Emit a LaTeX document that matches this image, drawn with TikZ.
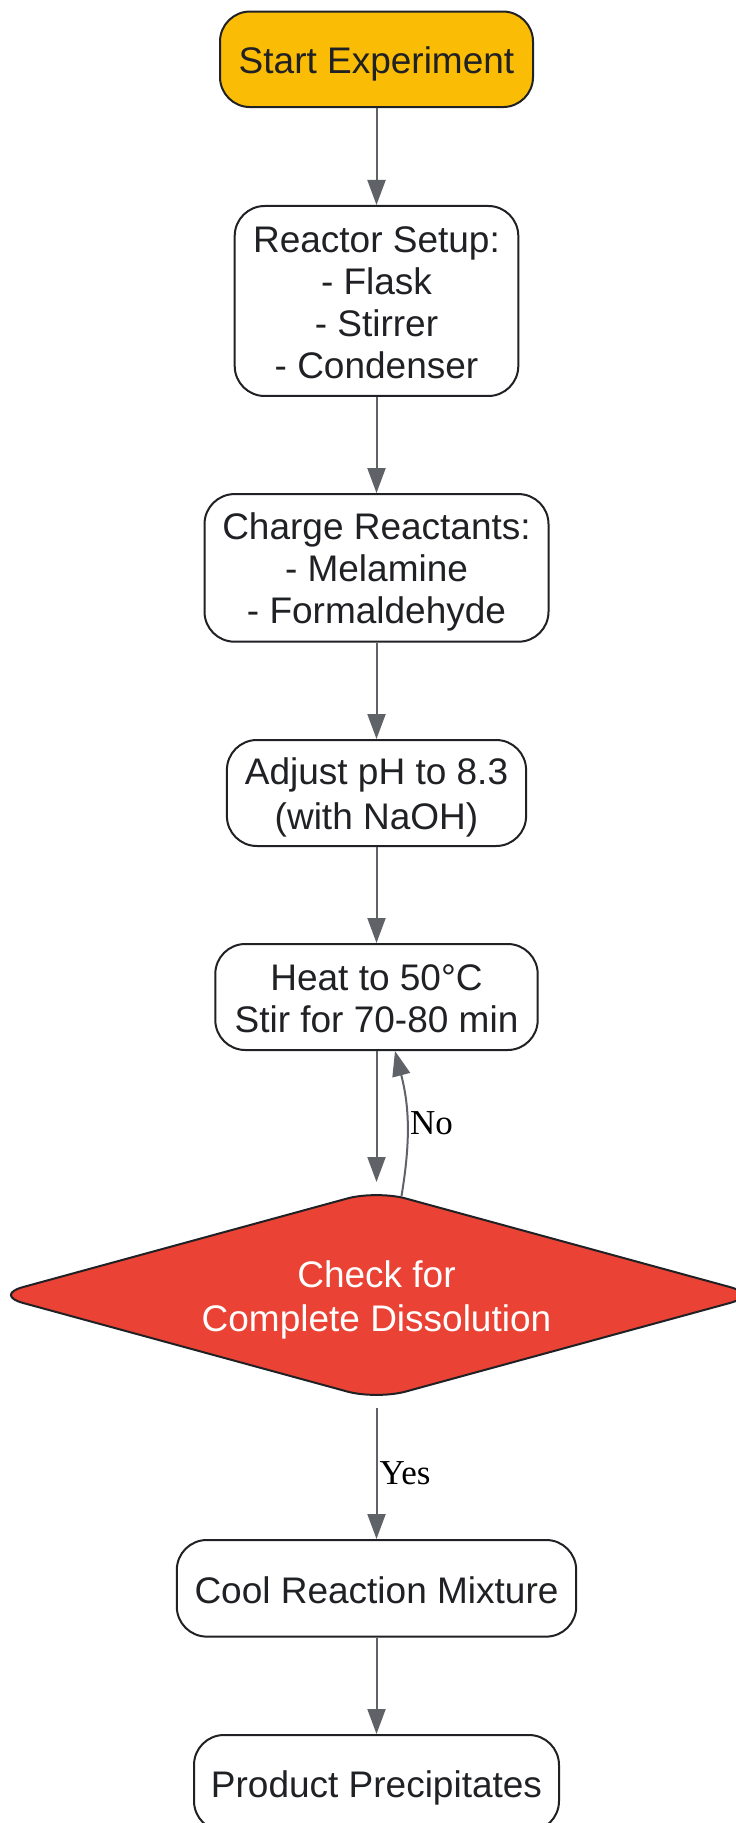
\documentclass[tikz,border=0pt]{standalone}
\usepackage{fontspec}
\setmainfont{Liberation Sans}
\newfontfamily\answerfont{Liberation Serif}
\usetikzlibrary{shapes.geometric,arrows.meta}
\definecolor{startyellow}{HTML}{FBBC05}
\definecolor{checkred}{HTML}{EA4335}
\definecolor{flowgray}{HTML}{5F6368}
\definecolor{inkdark}{HTML}{202124}
% one line box of the step text
\newcommand\boxstrut{\rule[-3.15pt]{0pt}{21pt}}
\newcommand\steplines[1]{\boxstrut#1\boxstrut}
\begin{document}
\begin{tikzpicture}[x=0.5pt,y=-0.5pt,
    stepbox/.style={draw=inkdark, line width=1pt, rounded corners=15pt, fill=white,
        text=inkdark, align=center, inner sep=0pt, font=\fontsize{18.5}{21}\selectfont},
    checkbox/.style={diamond, aspect=3.66, draw=inkdark, line width=1pt, rounded corners=15pt,
        fill=checkred, text=white, align=center, inner sep=0pt, outer sep=3pt,
        minimum width=385pt, minimum height=107pt, font=\fontsize{18.5}{20.5}\selectfont},
    flow/.style={draw=flowgray, line width=1pt, -{Triangle[width=9pt,length=12.5pt]}},
    answer/.style={font=\answerfont\fontsize{17.5}{20}\selectfont, text=black, inner sep=1pt}]
    \useasboundingbox (0,0) rectangle (735,1823);

    % Steps
    \node[stepbox, fill=startyellow, minimum width=156.5pt, minimum height=47.75pt] (start) at (376.5,59.3) {\steplines{Start Experiment}};
    \node[stepbox, minimum width=141.8pt, minimum height=95pt] (reactor) at (376.5,301) {\steplines{Reactor Setup:\\- Flask\\- Stirrer\\- Condenser}};
    \node[stepbox, minimum width=172pt, minimum height=73.8pt] (charge) at (376.5,567.9) {\steplines{Charge Reactants:\\- Melamine\\- Formaldehyde}};
    \node[stepbox, minimum width=149.6pt, minimum height=53pt] (adjust) at (376.5,793) {\steplines{Adjust pH to 8.3\\(with NaOH)}};
    \node[stepbox, minimum width=161.2pt, minimum height=53pt] (heat) at (376.5,997) {\steplines{Heat to 50°C\\Stir for 70-80 min}};
    \node[checkbox] (check) at (376.5,1295) {\steplines{Check for\\Complete Dissolution}};
    \node[stepbox, minimum width=199.7pt, minimum height=48.3pt] (cool) at (376.5,1588.3) {\steplines{Cool Reaction Mixture}};
    \node[stepbox, minimum width=182.5pt, minimum height=48pt] (product) at (376.5,1783) {\steplines{Product Precipitates}};

    % Connectors
    \draw[flow] (start) -- (reactor);
    \draw[flow] (reactor) -- (charge);
    \draw[flow] (charge) -- (adjust);
    \draw[flow] (adjust) -- (heat);
    \draw[flow] (heat) -- (check);
    \draw[flow] ([xshift=12.5pt,yshift=-7pt]check.north) to[bend right=12]
        node[answer, right] {No} ([xshift=9.25pt]heat.south);
    \draw[flow] (check) -- node[answer, right] {Yes} (cool);
    \draw[flow] (cool) -- (product);
\end{tikzpicture}
\end{document}
